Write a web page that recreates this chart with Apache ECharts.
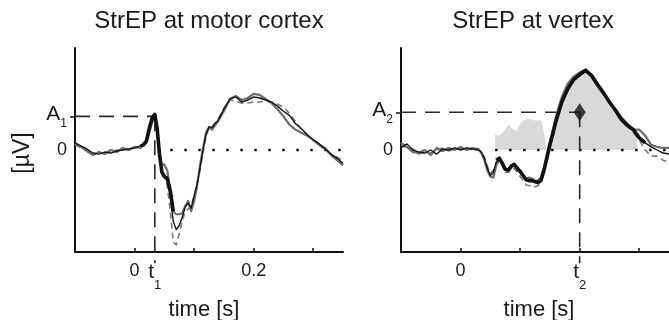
<!DOCTYPE html>
<html><head><meta charset="utf-8">
<script src="https://cdn.jsdelivr.net/npm/echarts@6/dist/echarts.min.js"></script>
<style>html,body{margin:0;padding:0;background:#fff}#c{width:669px;height:320px}</style>
</head><body><div id="c"></div>
<script>
// ---------- data ----------
const panelTitles = ['StrEP at motor cortex', 'StrEP at vertex'];
const xName = 'time [s]';
const yName = '[µV]';
const xTickValues = [0, 0.1, 0.2, 0.3];
const leftXLabels = [0, 0.2];
const rightXLabels = [0];
const t1 = 0.034, A1 = 0.33;
const t2 = 0.2, A2 = 0.37;

const leftTime = [-0.1,-0.09,-0.08,-0.07,-0.06,-0.05,-0.04,-0.03,-0.02,-0.01,
  0,0.01,0.015,0.02,0.025,0.03,0.034,0.038,0.042,0.046,
  0.05,0.055,0.06,0.065,0.07,0.075,0.08,0.085,0.09,0.095,
  0.1,0.105,0.11,0.115,0.12,0.125,0.13,0.14,0.15,0.16,
  0.17,0.18,0.19,0.2,0.21,0.22,0.23,0.24,0.25,0.26,
  0.27,0.28,0.29,0.3,0.31,0.32,0.33,0.34,0.35];
const leftThin = [0.07,0.04,0.01,-0.03,-0.04,-0.02,-0.03,-0.01,0.0,0.01,
  0.02,0.04,0.05,0.08,0.2,0.3,0.34,0.22,-0.05,-0.22,
  -0.27,-0.3,-0.45,-0.7,-0.78,-0.74,-0.66,-0.56,-0.52,-0.57,
  -0.45,-0.34,-0.17,0.0,0.15,0.23,0.22,0.29,0.4,0.5,
  0.52,0.47,0.49,0.52,0.51,0.49,0.47,0.43,0.38,0.34,
  0.26,0.21,0.15,0.1,0.06,0.01,-0.04,-0.08,-0.13];
const leftGray = [0.06,0.03,-0.01,-0.05,-0.02,-0.04,0.0,-0.02,0.02,0.0,
  0.03,0.02,0.05,0.07,0.18,0.28,0.3,0.18,-0.05,-0.15,
  -0.14,-0.2,-0.42,-0.6,-0.63,-0.63,-0.62,-0.55,-0.5,-0.6,
  -0.5,-0.35,-0.15,0.02,0.17,0.22,0.2,0.28,0.38,0.5,
  0.53,0.49,0.51,0.55,0.54,0.5,0.46,0.4,0.33,0.25,
  0.2,0.17,0.14,0.1,0.05,0.02,-0.05,-0.1,-0.15];
const leftDash = [0.05,0.02,0.0,-0.04,-0.03,-0.03,-0.02,0.0,0.0,0.02,
  0.02,0.03,0.05,0.08,0.2,0.3,0.32,0.2,-0.06,-0.2,
  -0.25,-0.35,-0.6,-0.9,-0.93,-0.82,-0.7,-0.6,-0.58,-0.55,
  -0.45,-0.33,-0.2,-0.03,0.13,0.22,0.23,0.3,0.41,0.49,
  0.48,0.46,0.46,0.47,0.47,0.48,0.47,0.45,0.42,0.36,
  0.28,0.2,0.15,0.1,0.05,0.0,-0.04,-0.07,-0.1];
const leftThickTime = [0.01,0.015,0.02,0.025,0.03,0.034,0.038,0.042,0.046,0.05,0.055,0.06,0.065];
const leftThick = [0.04,0.05,0.09,0.22,0.32,0.35,0.21,-0.05,-0.22,-0.26,-0.28,-0.4,-0.6];

const rightTime = [-0.1,-0.09,-0.08,-0.07,-0.06,-0.05,-0.04,-0.03,-0.02,-0.01,
  0,0.01,0.02,0.03,
  0.035,0.04,0.045,0.05,0.055,0.06,0.065,0.07,0.075,0.08,
  0.085,0.09,0.095,0.1,0.105,0.11,0.115,0.12,0.125,0.13,
  0.135,0.14,0.145,0.15,0.155,0.16,
  0.17,0.18,0.19,0.2,0.21,0.22,0.23,0.24,0.25,0.26,
  0.27,0.28,0.29,0.3,0.31,0.32,0.33,0.34,0.35];
const rightThin = [0.02,0.06,0.0,-0.02,-0.03,0.0,-0.04,0.01,0.0,0.02,
  0.0,0.02,0.01,0.0,
  -0.02,-0.08,-0.18,-0.25,-0.22,-0.12,-0.09,-0.14,-0.2,-0.2,
  -0.16,-0.15,-0.19,-0.22,-0.26,-0.3,-0.31,-0.3,-0.32,-0.33,
  -0.3,-0.2,-0.07,0.06,0.17,0.29,
  0.48,0.61,0.7,0.75,0.79,0.74,0.66,0.57,0.47,0.39,
  0.31,0.25,0.19,0.12,0.07,0.03,0.0,-0.03,-0.04];
const rightGray = [0.07,0.03,-0.02,-0.03,0.0,-0.05,0.02,-0.01,0.02,0.0,
  0.03,0.0,0.02,0.01,
  -0.03,-0.1,-0.2,-0.26,-0.27,-0.15,-0.1,-0.12,-0.18,-0.19,
  -0.15,-0.14,-0.17,-0.2,-0.25,-0.28,-0.27,-0.28,-0.3,-0.3,
  -0.27,-0.17,-0.04,0.08,0.2,0.32,
  0.52,0.65,0.72,0.76,0.79,0.72,0.63,0.55,0.47,0.4,
  0.32,0.26,0.2,0.2,0.14,0.05,0.03,0.02,0.02];
const rightDash = [0.05,0.02,0.01,-0.04,-0.02,-0.03,0.0,0.02,-0.01,0.01,
  0.02,0.01,0.0,0.0,
  -0.02,-0.07,-0.16,-0.23,-0.2,-0.12,-0.1,-0.15,-0.22,-0.22,
  -0.18,-0.18,-0.22,-0.26,-0.3,-0.34,-0.35,-0.34,-0.36,-0.35,
  -0.32,-0.22,-0.1,0.03,0.14,0.26,
  0.45,0.58,0.68,0.73,0.77,0.74,0.65,0.56,0.46,0.38,
  0.3,0.24,0.17,0.1,0.0,-0.06,-0.06,-0.1,-0.12];
const rightThickTime = [0.06,0.065,0.07,0.075,0.08,0.085,0.09,0.095,0.1,0.105,
  0.11,0.115,0.12,0.125,0.13,0.135,0.14,0.145,0.15,0.155,0.16,
  0.17,0.18,0.19,0.2,0.21,0.22,0.23,0.24,0.25,0.26,0.27,0.28,0.29,0.3,0.31];
const rightThick = [-0.1,-0.08,-0.13,-0.19,-0.2,-0.16,-0.14,-0.18,-0.21,-0.25,
  -0.29,-0.3,-0.3,-0.31,-0.32,-0.3,-0.2,-0.08,0.05,0.16,0.28,
  0.47,0.6,0.69,0.74,0.78,0.73,0.64,0.56,0.47,0.39,0.3,0.24,0.2,0.12,0.07];
const fillTime = [0.058,0.058,0.064,0.072,0.08,0.089,0.094,0.102,0.113,0.125,
  0.136,0.141,0.144,0.148,0.155,0.16,0.17,0.18,0.19,0.2,
  0.21,0.22,0.23,0.24,0.25,0.26,0.27,0.28,0.29,0.297,0.297];
const fillVal = [0,0.15,0.14,0.18,0.25,0.2,0.18,0.28,0.31,0.29,
  0.29,0.14,0,0,0.16,0.28,0.47,0.6,0.69,0.74,
  0.78,0.73,0.64,0.56,0.47,0.39,0.3,0.24,0.2,0.15,0];
const zeroLineStart = [0.06, 0.058];

// ---------- chart ----------
const FONT = '"Liberation Sans", Arial, Helvetica, sans-serif';
const TXT = '#1a1a1a';
const X_MIN = -0.1, X_MAX = 0.35, Y_MIN = -1, Y_MAX = 1, GUIDE_BOTTOM = -1.11;
const pairs = (t, v) => t.map((x, i) => [x, v[i]]);

function xAxisCfg(gi, labelVals, tMark, sub) {
  return {
    type: 'value', gridIndex: gi, min: X_MIN, max: X_MAX,
    axisLine: { show: true, onZero: false, lineStyle: { color: '#111', width: 2 } },
    splitLine: { show: false },
    axisTick: { show: true, inside: true, length: 4, customValues: xTickValues, lineStyle: { color: '#111', width: 1.5 } },
    axisLabel: {
      show: true, margin: 10, fontSize: 18, fontFamily: FONT, color: TXT,
      customValues: labelVals.concat([tMark]),
      formatter: v => (Math.abs(v - tMark) < 1e-9 ? '{t|t}{s|' + sub + '}' : String(v)),
      rich: {
        t: { fontSize: 21, lineHeight: 20, verticalAlign: 'top', fontFamily: FONT, color: TXT },
        s: { fontSize: 13, lineHeight: 30, verticalAlign: 'bottom', fontFamily: FONT, color: TXT }
      }
    }
  };
}
function yAxisCfg(gi, aVal, sub) {
  return {
    type: 'value', gridIndex: gi, min: Y_MIN, max: Y_MAX,
    axisLine: { show: true, onZero: false, lineStyle: { color: '#111', width: 2 } },
    splitLine: { show: false },
    axisTick: { show: true, inside: false, length: 5, customValues: [aVal], lineStyle: { color: '#111', width: 1.5 } },
    axisLabel: {
      show: true, margin: 8, fontSize: 18, fontFamily: FONT, color: TXT,
      customValues: [0, aVal],
      formatter: v => (Math.abs(v - aVal) < 1e-9 ? '{a|A}{s|' + sub + '}' : '0'),
      rich: {
        a: { fontSize: 21, lineHeight: 22, verticalAlign: 'top', fontFamily: FONT, color: TXT },
        s: { fontSize: 12, lineHeight: 26, verticalAlign: 'bottom', fontFamily: FONT, color: TXT }
      }
    }
  };
}
function lineS(gi, data, color, width, type, extra) {
  return Object.assign({
    type: 'line', xAxisIndex: gi, yAxisIndex: gi, data: data,
    symbol: 'none', showSymbol: false, silent: true, animation: false,
    lineStyle: { color: color, width: width, type: type || 'solid', cap: 'butt', join: 'round' }
  }, extra || {});
}
function panelSeries(gi, T, thin, gray, dash, thickT, thick, tMark, aVal) {
  return [
    lineS(gi, [[zeroLineStart[gi], 0], [X_MAX, 0]], '#111', 2.5, [2.5, 11.5]),
    lineS(gi, [[X_MIN, aVal], [tMark, aVal]], '#2a2a2a', 1.6, [15, 9]),
    lineS(gi, [[tMark, aVal], [tMark, GUIDE_BOTTOM]], '#2a2a2a', 1.6, [15, 9], { clip: false }),
    lineS(gi, pairs(T, dash), '#7a7a7a', 1.6, [6, 4]),
    lineS(gi, pairs(T, gray), '#6e6e6e', 2.2),
    lineS(gi, pairs(T, thin), '#151515', 1.4),
    lineS(gi, pairs(thickT, thick), '#111', 3.6)
  ];
}

const series = [];
series.push(lineS(1, pairs(fillTime, fillVal), '#d9d9d9', 0, 'solid', { areaStyle: { color: '#d9d9d9', opacity: 1 } }));
series.push(...panelSeries(0, leftTime, leftThin, leftGray, leftDash, leftThickTime, leftThick, t1, A1));
series.push(...panelSeries(1, rightTime, rightThin, rightGray, rightDash, rightThickTime, rightThick, t2, A2));
series.push({
  type: 'scatter', xAxisIndex: 1, yAxisIndex: 1, data: [[t2, A2]], symbol: 'diamond',
  symbolSize: [12, 18], itemStyle: { color: '#111' }, silent: true, animation: false, z: 5
});

const chart = echarts.init(document.getElementById('c'), null, { renderer: 'canvas' });
chart.setOption({
  animation: false,
  backgroundColor: '#fff',
  grid: [
    { left: 75, top: 48, width: 268, height: 204 },
    { left: 401, top: 48, width: 268, height: 204 }
  ],
  xAxis: [xAxisCfg(0, leftXLabels, t1, '1'), xAxisCfg(1, rightXLabels, t2, '2')],
  yAxis: [yAxisCfg(0, A1, '1'), yAxisCfg(1, A2, '2')],
  series: series,
  graphic: [
    { type: 'text', x: 209, y: 21, silent: true, style: { text: panelTitles[0], align: 'center', verticalAlign: 'middle', font: '24px ' + FONT, fill: TXT } },
    { type: 'text', x: 533, y: 21, silent: true, style: { text: panelTitles[1], align: 'center', verticalAlign: 'middle', font: '24px ' + FONT, fill: TXT } },
    { type: 'text', x: 204, y: 310, silent: true, style: { text: xName, align: 'center', verticalAlign: 'middle', font: '22px ' + FONT, fill: TXT } },
    { type: 'text', x: 539, y: 310, silent: true, style: { text: xName, align: 'center', verticalAlign: 'middle', font: '22px ' + FONT, fill: TXT } },
    { type: 'text', x: 23, y: 153, rotation: Math.PI / 2, silent: true, style: { text: yName, align: 'center', verticalAlign: 'middle', font: '23px ' + FONT, fill: TXT } }
  ]
});
</script></body></html>
